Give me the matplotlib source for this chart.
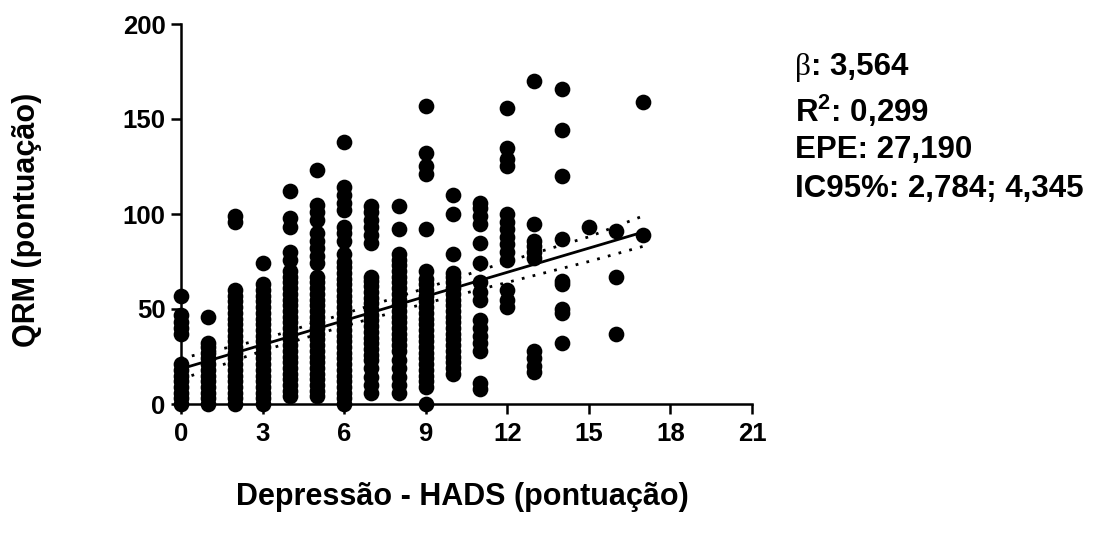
import numpy as np
import matplotlib.pyplot as plt

plt.rcParams['font.family'] = ['Liberation Sans', 'DejaVu Sans']
plt.rcParams['font.weight'] = 'bold'
plt.rcParams['mathtext.fontset'] = 'custom'
plt.rcParams['mathtext.bf'] = 'Liberation Sans:bold'
plt.rcParams['mathtext.rm'] = 'Liberation Sans:bold'

# QRM scores read per HADS depression score (columns at x = 0..17)
qrm_0 = [0, 3, 6, 9, 12, 15, 18, 21, 37, 40, 43, 47, 57]
qrm_1 = [0, 3, 6, 9, 12, 15, 18, 21, 24, 27, 30, 32, 46]
qrm_2 = [0, 3, 6, 9, 12, 15, 18, 21, 24, 27, 30, 33, 36, 39, 42, 45, 48, 51, 54, 57, 60, 96, 99]
qrm_3 = [0, 3, 6, 9, 12, 15, 18, 21, 24, 27, 30, 33, 36, 39, 42, 45, 48, 51, 54, 57, 60, 63, 74]
qrm_4 = [4, 7, 10, 13, 16, 19, 22, 25, 28, 31, 34, 37, 40, 43, 46, 49, 52, 55, 58, 61, 64, 67, 70,
         76, 80, 93, 98, 112]
qrm_5 = [4, 7, 10, 13, 16, 19, 22, 25, 28, 31, 34, 37, 40, 43, 46, 49, 52, 55, 58, 61, 64, 67,
         74, 78, 82, 86, 90, 97, 101, 105, 123]
qrm_6 = [0, 3, 6, 9, 12, 15, 18, 21, 24, 27, 30, 33, 36, 39, 42, 45, 48, 51, 54, 57, 60, 63, 66, 69,
         72, 75, 79, 86, 90, 93, 102, 106, 110, 114, 138]
qrm_7 = [6, 10, 14, 19, 23, 26, 29, 32, 35, 38, 41, 44, 47, 50, 53, 56, 59, 62, 65, 67,
         85, 89, 93, 97, 101, 104]
qrm_8 = [6, 10, 14, 19, 23, 28, 31, 34, 37, 40, 43, 46, 49, 52, 55, 58, 61, 64, 67, 70, 73, 76, 79,
         92, 104]
qrm_9 = [0, 9, 12, 15, 18, 21, 24, 27, 30, 33, 36, 39, 42, 45, 48, 51, 54, 57, 60, 63, 66, 70,
         92, 121, 125, 132, 157]
qrm_10 = [16, 19, 22, 25, 28, 31, 34, 37, 40, 43, 46, 49, 52, 55, 58, 61, 64, 67, 69, 79, 100, 110]
qrm_11 = [8, 11, 28, 32, 36, 40, 44, 55, 59, 64, 74, 85, 95, 99, 103, 106]
qrm_12 = [51, 55, 60, 76, 80, 84, 88, 92, 96, 100, 125, 129, 135, 156]
qrm_13 = [17, 20, 24, 28, 77, 80, 83, 86, 95, 170]
qrm_14 = [32, 48, 50, 63, 65, 87, 120, 144, 166]
qrm_15 = [93]
qrm_16 = [37, 67, 91]
qrm_17 = [89, 159]
columns = [qrm_0, qrm_1, qrm_2, qrm_3, qrm_4, qrm_5, qrm_6, qrm_7, qrm_8, qrm_9,
           qrm_10, qrm_11, qrm_12, qrm_13, qrm_14, qrm_15, qrm_16, qrm_17]

# regression line and 95% band
fit_x = [0, 17]
fit_y = [18.5, 90.5]
band_x = [0, 3, 6, 9, 12, 15, 17]
band_hi = [24, 34, 47.5, 61, 75, 88, 99]
band_lo = [13, 28, 41, 53, 64, 75, 83]

fig = plt.figure(figsize=(10.95, 5.52), dpi=100)
ax = fig.add_axes([181 / 1095, 148 / 552, 571 / 1095, 380 / 552])

for i, col in enumerate(columns):
    ax.plot([i] * len(col), col, 'o', color='black', ms=11.3, mec='none', clip_on=False, zorder=3)

ax.plot(fit_x, fit_y, color='black', lw=2, zorder=4)
ax.plot(band_x, band_hi, color='black', lw=2, ls=(0, (1, 3)), zorder=4)
ax.plot(band_x, band_lo, color='black', lw=2, ls=(0, (1, 3)), zorder=4)

ax.set_xlim(0, 21)
ax.set_ylim(0, 200)
ax.set_xticks([0, 3, 6, 9, 12, 15, 18, 21])
ax.set_yticks([0, 50, 100, 150, 200])
ax.spines['top'].set_visible(False)
ax.spines['right'].set_visible(False)
for s in ['left', 'bottom']:
    ax.spines[s].set_linewidth(1.8)
ax.tick_params(axis='both', length=7, width=1.8, labelsize=18.5)
ax.tick_params(axis='x', pad=6)
ax.tick_params(axis='y', pad=4)

ax.set_xlabel('Depressão - HADS (pontuação)', fontsize=22, fontweight='bold')
ax.xaxis.label.set_va('baseline')
ax.xaxis.set_label_coords((462 - 181) / 571, (404 - 505) / 380)
ax.set_ylabel('QRM (pontuação)', fontsize=22, fontweight='bold')
ax.yaxis.label.set_va('center')
ax.yaxis.set_label_coords((27 - 181) / 571, (404 - 220) / 380)

def px(x, y):
    return x / 1095, 1 - y / 552

fs = 22.5
fig.text(*px(795, 75), 'β', family='Liberation Serif', fontweight='normal', fontsize=fs, va='baseline')
fig.text(*px(811, 75), ': 3,564', fontsize=fs, va='baseline')
fig.text(*px(795, 122), r'$\mathbf{R^{2}}$: 0,299', fontsize=fs, va='baseline')
fig.text(*px(795, 158), 'EPE: 27,190', fontsize=fs, va='baseline')
fig.text(*px(795, 197), 'IC95%: 2,784; 4,345', fontsize=fs, va='baseline')

fig.savefig('out.png', dpi=100)
